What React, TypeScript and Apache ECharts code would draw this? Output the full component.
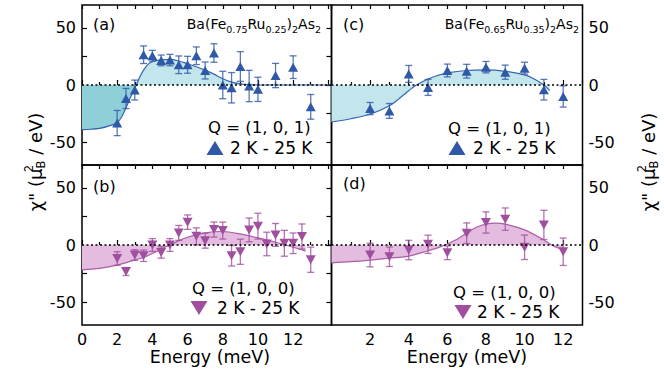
import React, { useEffect, useRef } from 'react';
import * as echarts from 'echarts';

// ---------- data ----------
// Panel (a): Ba(Fe0.75Ru0.25)2As2, Q = (1,0,1)
const energyA = [2, 2.5, 3, 3.5, 4, 4.5, 5, 5.5, 6, 6.5, 7, 7.5, 8, 8.5, 9, 9.5, 10, 11, 12, 13];
const valueA = [-33.3, -11.8, -4.4, 26.5, 25.6, 21.5, 21.8, 17.7, 17.7, 25.6, 12.7, 28, 0, -2.4, 16.2, -0.9, -3.8, 8.3, 15.6, -19.1];
const errorA = [11, 8.8, 8.7, 7.7, 4.7, 4.7, 5, 7.7, 7.4, 7.7, 7.4, 8.1, 12, 13.3, 13, 13.7, 10.6, 10.6, 9.9, 10.8];
const curveAE = [0, 0.5, 1, 1.5, 2, 2.25, 2.5, 2.75, 3, 3.25, 3.5, 3.75, 4, 4.5, 5, 5.5, 6, 6.5, 7, 7.5, 8, 8.5, 9, 9.5, 10, 11, 12, 13, 14.2];
const curveAV = [-39, -38.7, -38, -36, -33, -28, -20, -11, -3, 6, 13, 18, 20.5, 22, 22.5, 21, 18.5, 16, 13, 9.5, 5.5, 2.5, 1, 0.3, 0, 0, 0, 0, 0];

// Panel (b): Ba(Fe0.75Ru0.25)2As2, Q = (1,0,0)
const energyB = [2, 2.5, 3, 3.5, 4, 4.5, 5, 5.5, 6, 6.5, 7, 7.5, 8, 8.5, 9, 9.5, 10, 10.5, 11, 11.5, 12, 12.5, 13];
const valueB = [-11.8, -23.2, -8.8, -9.4, 0, -6.5, 0, 10.6, 20, 7.6, 3.8, 13.5, 12.6, -9.4, -5.9, 13.2, 16.5, 0.9, 8.8, 1.5, 1.5, 7.4, -12.9];
const errorB = [5.9, 3.5, 4.7, 5, 5.6, 5, 5.6, 6.5, 6.3, 7.4, 6.6, 6.6, 7.4, 9, 11, 10.4, 11.3, 10.3, 10, 11.3, 9, 11, 11];
const curveBE = [0, 1, 2, 3, 3.5, 4, 4.5, 5, 5.5, 6, 7, 8, 9, 10, 11, 12, 12.7];
const curveBV = [-21.8, -20.5, -17.6, -13, -10.9, -7.5, -3.5, 0, 3.8, 6.8, 10.6, 11.8, 9.7, 6.2, 2.4, -2, -5.3];

// Panel (c): Ba(Fe0.65Ru0.35)2As2, Q = (1,0,1)
const energyC = [2, 3, 4, 5, 6, 7, 8, 9, 10, 11, 12];
const valueC = [-20.6, -22.7, 9.7, -2.1, 12.7, 12.1, 15.6, 11.2, 14.7, -4.1, -10];
const errorC = [5.3, 6.5, 7.4, 7, 5.6, 6, 5, 6.2, 5.2, 9, 9.3];
const curveCE = [0, 1, 2, 3, 3.5, 4, 4.4, 5, 5.5, 6, 7, 8, 9, 10, 10.5, 11, 11.3];
const curveCV = [-32.4, -29.5, -25.6, -18.2, -12, -5, 0, 5.3, 8.3, 10.6, 12.7, 13.2, 12, 8.8, 5.3, 0, -5];

// Panel (d): Ba(Fe0.65Ru0.35)2As2, Q = (1,0,0)
const energyD = [2, 3, 4, 5, 6, 7, 8, 9, 10, 11, 12];
const valueD = [-8.8, -10.3, -4.4, 0.6, -6.8, 10.3, 19.7, 22.6, -2, 17.6, -5.9];
const errorD = [10.3, 8.5, 8.5, 8, 6, 9, 9.3, 9.8, 10.7, 12.8, 12];
const curveDE = [0, 1, 2, 3, 4, 5, 5.5, 6, 6.5, 7, 7.5, 8, 8.5, 9, 10, 11, 11.4, 12];
const curveDV = [-15.6, -14.6, -13.2, -11.5, -9.7, -5, -2.5, 0.9, 5, 10.3, 15.5, 18.3, 19.1, 18.2, 13.2, 4.4, 0, -4.4];

const yTickValues = [-50, -25, 0, 25, 50];
const yLabelValues = [-50, 0, 50];
const panelLabels = ['(a)', '(b)', '(c)', '(d)'];
const qLabels = ['Q = (1, 0, 1)', 'Q = (1, 0, 0)', 'Q = (1, 0, 1)', 'Q = (1, 0, 0)'];
const tempLabel = '2 K - 25 K';

const F = 'DejaVu Sans';
const BLUE = '#2f58a6';
const BLUE_LINE = '#3465b0';
const PURPLE = '#a04f9e';
const PURPLE_LINE = '#a95ea7';
const CYAN_DARK = '#8fd0d8';
const CYAN_LIGHT = '#c3e6ec';
const PINK = '#e3bcdf';

const grids = [
  { left: 82, top: 5, width: 249.5, height: 160 },
  { left: 82, top: 165, width: 249.5, height: 160 },
  { left: 331.5, top: 5, width: 251, height: 160 },
  { left: 331.5, top: 165, width: 251, height: 160 },
];
const xMax = [14.18, 14.18, 13, 13];

function pairs(xs: number[], ys: number[]) {
  return xs.map((x, i) => [x, ys[i]]);
}

function errRender(color: string) {
  return (params: any, api: any) => {
    const e = api.value(0);
    const v = api.value(1);
    const d = api.value(2);
    const top = api.coord([e, v + d]);
    const bot = api.coord([e, v - d]);
    const cap = 3.5;
    const style = { stroke: color, lineWidth: 1.3, opacity: 0.8 };
    return {
      type: 'group',
      children: [
        { type: 'line', shape: { x1: top[0], y1: top[1], x2: bot[0], y2: bot[1] }, style },
        { type: 'line', shape: { x1: top[0] - cap, y1: top[1], x2: top[0] + cap, y2: top[1] }, style },
        { type: 'line', shape: { x1: bot[0] - cap, y1: bot[1], x2: bot[0] + cap, y2: bot[1] }, style },
      ],
    };
  };
}

export default function App() {
  const ref = useRef<HTMLDivElement>(null);
  useEffect(() => {
    if (!ref.current) return;
    const chart = echarts.init(ref.current, undefined, { renderer: 'svg' });

    const xAxis: any[] = [];
    const yAxis: any[] = [];
    grids.forEach((g, i) => {
      const isBottom = i === 1 || i === 3;
      const isLeft = i < 2;
      xAxis.push({
        type: 'value', gridIndex: i, position: 'bottom', min: 0, max: xMax[i], interval: 2,
        axisLine: { show: false },
        axisTick: { inside: true, length: 5, lineStyle: { color: '#000', width: 1.2 } },
        minorTick: { show: true, splitNumber: 2, length: 3, lineStyle: { color: '#000', width: 1.2 } },
        splitLine: { show: false }, minorSplitLine: { show: false },
        axisLabel: {
          show: isBottom, color: '#000', fontFamily: F, fontSize: 16, margin: 6,
          formatter: (v: number) => (v > 12.01 || (!isLeft && v < 1) ? '' : String(v)),
        },
      });
      xAxis.push({
        type: 'value', gridIndex: i, position: 'top', min: 0, max: xMax[i], interval: 1,
        axisLine: { show: false },
        axisTick: { inside: true, length: 4, lineStyle: { color: '#000', width: 1.2 } },
        splitLine: { show: false }, axisLabel: { show: false },
      });
      yAxis.push({
        type: 'value', gridIndex: i, position: isLeft ? 'left' : 'right', min: -70, max: 70,
        axisLine: { show: false },
        axisTick: { inside: true, length: 5, customValues: yTickValues, lineStyle: { color: '#000', width: 1.2 } },
        axisLabel: { customValues: yLabelValues, color: '#000', fontFamily: F, fontSize: 16, margin: 6 },
        splitLine: { show: false },
      });
    });

    const areaA = {
      type: 'linear', x: 0, y: 5, x2: 0, y2: 165, global: true,
      colorStops: [
        { offset: 0, color: CYAN_LIGHT }, { offset: 0.5, color: CYAN_LIGHT },
        { offset: 0.5, color: CYAN_DARK }, { offset: 1, color: CYAN_DARK },
      ],
    };

    const panels = [
      { e: energyA, v: valueA, err: errorA, ce: curveAE, cv: curveAV, mc: BLUE, lc: BLUE_LINE, fill: areaA, down: false },
      { e: energyB, v: valueB, err: errorB, ce: curveBE, cv: curveBV, mc: PURPLE, lc: PURPLE_LINE, fill: PINK, down: true },
      { e: energyC, v: valueC, err: errorC, ce: curveCE, cv: curveCV, mc: BLUE, lc: BLUE_LINE, fill: CYAN_LIGHT, down: false },
      { e: energyD, v: valueD, err: errorD, ce: curveDE, cv: curveDV, mc: PURPLE, lc: PURPLE_LINE, fill: PINK, down: true },
    ];

    const series: any[] = [];
    panels.forEach((p, i) => {
      series.push({
        type: 'line', xAxisIndex: 2 * i, yAxisIndex: i, data: pairs(p.ce, p.cv),
        symbol: 'none', smooth: 0.3, z: 1,
        lineStyle: { color: p.lc, width: 1.2 },
        areaStyle: { color: p.fill, opacity: 1 },
        markLine: {
          silent: true, symbol: ['none', 'none'], label: { show: false },
          lineStyle: { type: [2, 2.5], color: '#000', width: 1.5 },
          data: [{ yAxis: 0 }],
        },
      });
      series.push({
        type: 'custom', xAxisIndex: 2 * i, yAxisIndex: i, z: 3,
        data: p.e.map((e, k) => [e, p.v[k], p.err[k]]),
        renderItem: errRender(p.mc),
      });
      series.push({
        type: 'scatter', xAxisIndex: 2 * i, yAxisIndex: i, z: 4,
        data: pairs(p.e, p.v), symbol: 'triangle', symbolSize: [10, 9],
        symbolRotate: p.down ? 180 : 0,
        itemStyle: { color: p.mc, opacity: 1 },
      });
    });

    const txt = (text: string, x: number, y: number, size: number, align = 'left') => ({
      type: 'text', x, y, z: 10,
      style: { text, fontFamily: F, fontSize: size, fill: '#000', align, verticalAlign: 'middle' },
    });

    const compound = (a: string, b: string, x: number) => ({
      type: 'text', x, y: 24, z: 10,
      style: {
        text: `{m|Ba(Fe}{s|${a}}{m|Ru}{s|${b}}{m|)}{s|2}{m|As}{s|2}`,
        align: 'right', verticalAlign: 'middle',
        rich: {
          m: { fontFamily: F, fontSize: 14, fill: '#000' },
          s: { fontFamily: F, fontSize: 9.5, fill: '#000', padding: [11, 0, 0, 0] },
        },
      },
    });

    const yTitle = (x: number) => ({
      type: 'text', x, y: 162, rotation: Math.PI / 2, z: 10,
      style: {
        text: '{m|χ" (μ}{sup|2}{sub|B}{m| / eV)}',
        align: 'center', verticalAlign: 'middle',
        rich: {
          m: { fontFamily: F, fontSize: 18, fill: '#000' },
          sup: { fontFamily: F, fontSize: 11.5, fill: '#000', width: 0, padding: [0, 0, 13, 0] },
          sub: { fontFamily: F, fontSize: 11.5, fill: '#000', padding: [11, 0, 0, 0] },
        },
      },
    });

    const tri = (cx: number, cy: number, color: string, down: boolean) => ({
      type: 'polygon', z: 10,
      shape: {
        points: down
          ? [[cx - 8.5, cy - 7], [cx + 8.5, cy - 7], [cx, cy + 7]]
          : [[cx - 8.5, cy + 7], [cx + 8.5, cy + 7], [cx, cy - 7]],
      },
      style: { fill: color },
    });

    const graphic: any[] = [
      txt(panelLabels[0], 93, 24, 16),
      txt(panelLabels[1], 93, 186, 16),
      txt(panelLabels[2], 343, 24, 16),
      txt(panelLabels[3], 343, 183, 16),
      compound('0.75', '0.25', 321),
      compound('0.65', '0.35', 579),
      txt(qLabels[0], 208, 127, 16.5),
      tri(215, 148, BLUE, false),
      txt(tempLabel, 230, 148, 17),
      txt(qLabels[2], 448, 128, 16.5),
      tri(457, 148, BLUE, false),
      txt(tempLabel, 473, 148, 17),
      txt(qLabels[1], 192, 288, 16.5),
      tri(199, 308, PURPLE, true),
      txt(tempLabel, 217, 308, 17),
      txt(qLabels[3], 453, 292, 16.5),
      tri(463, 312, PURPLE, true),
      txt(tempLabel, 477, 312, 17),
      txt('Energy (meV)', 210, 357, 17.5, 'center'),
      txt('Energy (meV)', 467, 357, 17.5, 'center'),
      yTitle(35),
      yTitle(648),
    ];

    chart.setOption({
      animation: false,
      backgroundColor: '#fff',
      grid: grids.map((g) => ({
        ...g, show: true, borderColor: '#000', borderWidth: 1.5, backgroundColor: 'transparent',
        containLabel: false, outerBoundsMode: 'none',
      })),
      xAxis, yAxis, series, graphic,
    });
    return () => chart.dispose();
  }, []);
  return <div ref={ref} style={{ position: 'fixed', left: 0, top: 0, width: 664, height: 373 }} />;
}
